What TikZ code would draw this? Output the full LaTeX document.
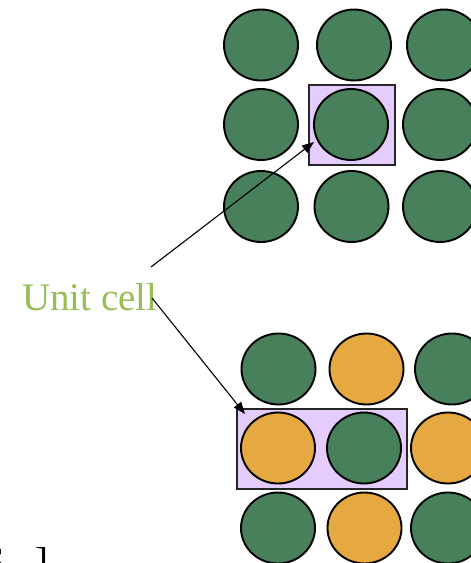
\documentclass[tikz,border=0pt]{standalone}
\usepackage{fontspec}
\setmainfont{Liberation Serif}
\usetikzlibrary{shapes.geometric,arrows.meta}
\definecolor{ballgreen}{RGB}{71,128,90}
\definecolor{ballorange}{RGB}{230,168,64}
\definecolor{cellfill}{RGB}{229,204,255}
\definecolor{labelgreen}{RGB}{150,190,85}
\tikzset{
  ball/.style={ellipse, draw=black, line width=1.9pt, inner sep=0pt, minimum width=74pt, minimum height=71pt},
  gball/.style={ball, fill=ballgreen},
  oball/.style={ball, fill=ballorange},
  cellbox/.style={rectangle, draw=black!85, line width=1.4pt, fill=cellfill, inner sep=0pt},
  arr/.style={draw=black, line width=1.1pt, -{Triangle[length=12pt,width=9pt]}},
  bigtext/.style={font=\fontsize{39}{39}\selectfont, inner sep=0pt, anchor=base west}
}
\begin{document}
\begin{tikzpicture}[x=1pt,y=-1pt]
\useasboundingbox (0,0) rectangle (471,563);
\begin{scope}
\clip (0,0) rectangle (471,563);
% top lattice
\node[cellbox, minimum width=86pt, minimum height=80pt] (cell1) at (352,125) {};
\node[gball] (t11) at (261,45) {};
\node[gball] (t12) at (354,45) {};
\node[gball] (t13) at (444,45) {};
\node[gball] (t21) at (261,124.5) {};
\node[gball] (t22) at (351,124.5) {};
\node[gball] (t23) at (440,124.5) {};
\node[gball] (t31) at (261,206.5) {};
\node[gball] (t32) at (351.5,206.5) {};
\node[gball] (t33) at (440,206.5) {};
% bottom lattice
\node[cellbox, minimum width=170pt, minimum height=80pt] (cell2) at (322,449) {};
\node[gball] (b11) at (278.5,369) {};
\node[oball] (b12) at (366.5,369) {};
\node[gball] (b13) at (452,369) {};
\node[oball] (b21) at (278,448) {};
\node[gball] (b22) at (364,448) {};
\node[oball] (b23) at (448,448) {};
\node[gball] (b31) at (278,528) {};
\node[oball] (b32) at (364.5,528) {};
\node[gball] (b33) at (448,528) {};
% clipped fragments at the bottom left
\node[bigtext] (fragA) at (-17,574) {S};
\node[bigtext] (fragB) at (35,574) {]};
\end{scope}
% label and arrows
\node[bigtext, text=labelgreen] (lbl) at (22,310) {Unit cell};
\coordinate (s1) at (151,267);
\coordinate (s2) at (152,298);
\coordinate (e1) at (314,142);
\coordinate (e2) at (245,414);
\draw[arr] (s1) -- (e1);
\draw[arr] (s2) -- (e2);
\end{tikzpicture}
\end{document}
